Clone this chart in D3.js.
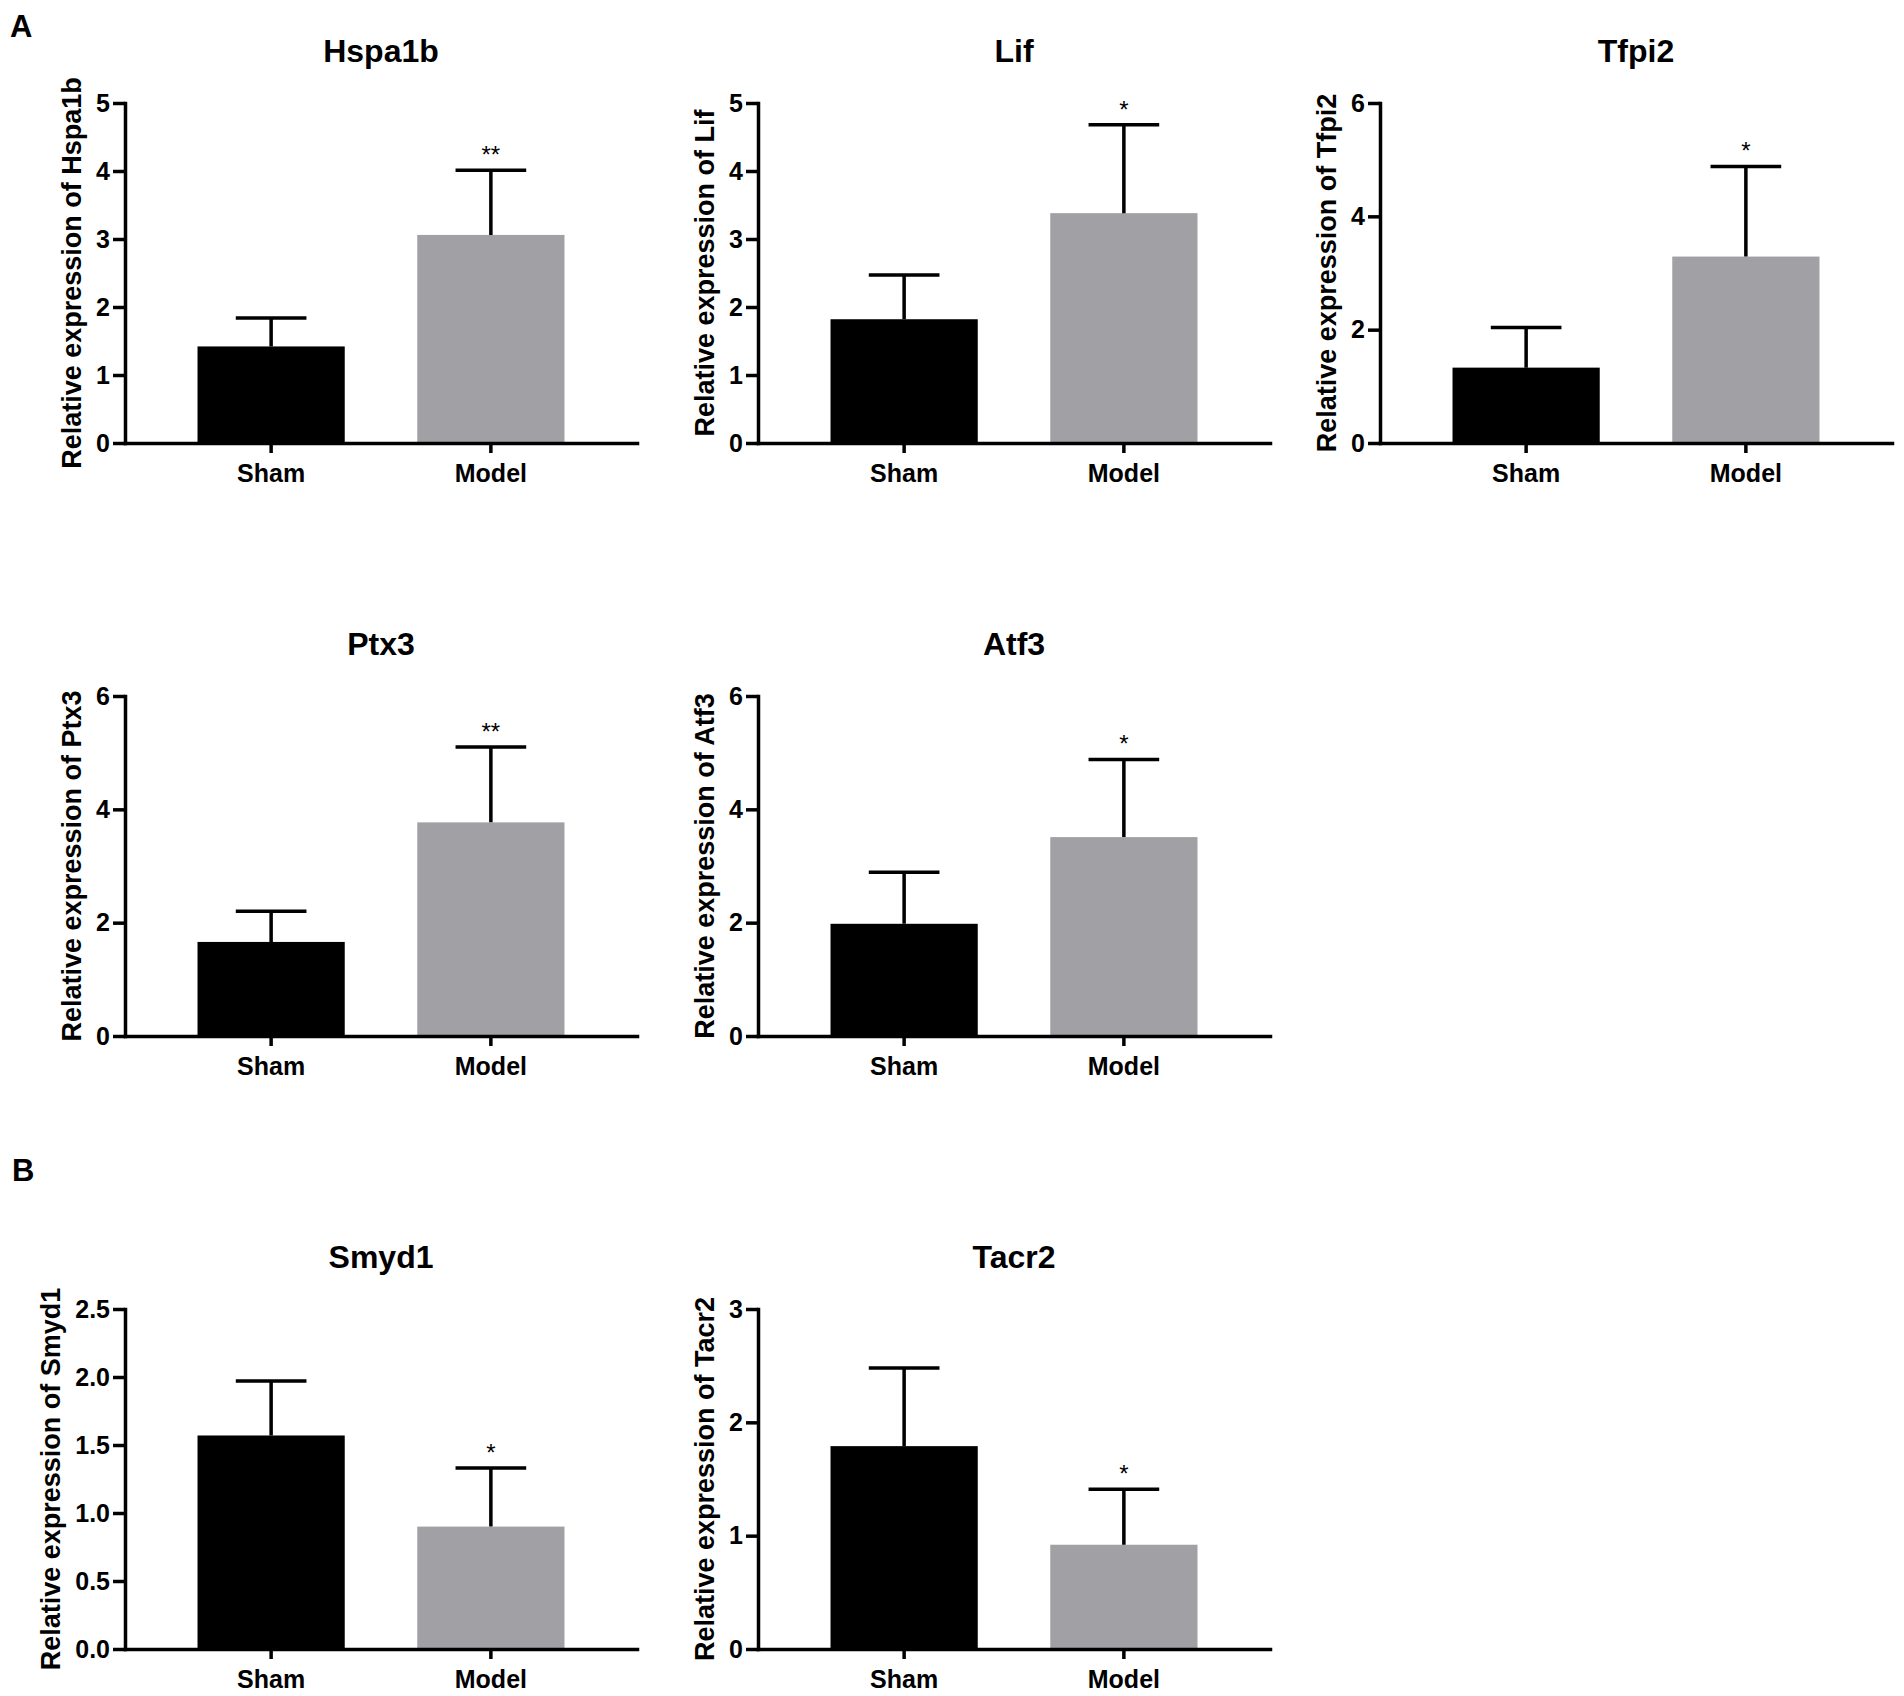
<!DOCTYPE html>
<html lang="en">
<head>
    <meta charset="UTF-8">
    <title>Relative expression</title>
    <style>
        body { margin: 0; background: #fff; }
        svg { display: block; font-family: "Liberation Sans", Arial, sans-serif; }

        .axis path,
        .axis line {
            fill: none;
            stroke: #000;
            stroke-width: 3.5;
        }
        .axis path { stroke-linecap: square; }

        .axis text {
            font-size: 25px;
            font-weight: bold;
            fill: #000;
        }
        .xaxis text { font-size: 25px; }

        .title {
            font-size: 32px;
            font-weight: bold;
            text-anchor: middle;
        }
        .ylabel {
            font-size: 27px;
            font-weight: bold;
            text-anchor: middle;
        }
        .panel {
            font-size: 31px;
            font-weight: bold;
        }
        .star {
            font-size: 24px;
            text-anchor: middle;
        }
        .err { stroke: #000; stroke-width: 3.5; fill: none; }
    </style>
</head>
<body>
    <svg></svg>
    <script src="https://cdn.jsdelivr.net/npm/d3@7"></script>
    <script>
        // data (mean and upper SD)
        var genes = ["Hspa1b", "Lif", "Tfpi2", "Ptx3", "Atf3", "Smyd1", "Tacr2"];
        var groups = ["Sham", "Model"];
        var shamMean = [1.42, 1.82, 1.33, 1.66, 1.98, 1.57, 1.79];
        var shamSD = [0.42, 0.65, 0.71, 0.54, 0.91, 0.40, 0.69];
        var modelMean = [3.06, 3.38, 3.29, 3.77, 3.51, 0.90, 0.92];
        var modelSD = [0.95, 1.30, 1.59, 1.33, 1.37, 0.43, 0.49];
        var signif = ["**", "*", "*", "**", "*", "*", "*"];
        var yMax = [5, 5, 6, 6, 6, 2.5, 3];
        var yStep = [1, 1, 2, 2, 2, 0.5, 1];
        var yFormat = ["d", "d", "d", "d", "d", ".1f", "d"];
        var panelLetters = ["A", "B"];

        // layout: top-left corner of every plot area
        var pos = [[125, 103], [758, 103], [1380, 103],
                   [125, 696], [758, 696],
                   [125, 1309], [758, 1309]];
        var W = 512, H = 340;
        var colors = ["#000000", "#a1a1a5"];

        var svg = d3.select("svg")
            .attr("width", 1904)
            .attr("height", 1696);

        //panel letters
        svg.selectAll(".panel")
            .data(panelLetters)
            .enter()
            .append("text")
            .attr("class", "panel")
            .attr("x", function (d, i) { return i === 0 ? 10 : 12; })
            .attr("y", function (d, i) { return i === 0 ? 37 : 1181; })
            .text(function (d) { return d; });

        genes.forEach(function (gene, i) {
            var g = svg.append("g")
                .attr("transform", "translate(" + pos[i][0] + "," + pos[i][1] + ")");

            var vals = [shamMean[i], modelMean[i]];
            var sds = [shamSD[i], modelSD[i]];

            var x = d3.scaleBand()
                .domain(groups)
                .range([0, W])
                .paddingInner(0.33)
                .paddingOuter(0.33);

            var y = d3.scaleLinear()
                .domain([0, yMax[i]])
                .range([H, 0]);

            //bars
            g.selectAll(".bar")
                .data(groups)
                .enter()
                .append("rect")
                .attr("class", "bar")
                .attr("x", function (d) { return x(d); })
                .attr("width", x.bandwidth())
                .attr("y", function (d, j) { return y(vals[j]); })
                .attr("height", function (d, j) { return H - y(vals[j]); })
                .attr("fill", function (d, j) { return colors[j]; });

            //error bars (upper only)
            var capHalf = x.bandwidth() * 0.24;
            groups.forEach(function (d, j) {
                var cx = x(d) + x.bandwidth() / 2;
                var top = y(vals[j] + sds[j]);
                g.append("path")
                    .attr("class", "err")
                    .attr("d", "M" + cx + "," + y(vals[j]) + "V" + top +
                        "M" + (cx - capHalf) + "," + top + "H" + (cx + capHalf));
            });

            //significance stars
            var mx = x("Model") + x.bandwidth() / 2;
            g.append("text")
                .attr("class", "star")
                .attr("x", mx)
                .attr("y", y(vals[1] + sds[1]) - 7)
                .text(signif[i]);

            //axes
            var yAxis = d3.axisLeft(y)
                .tickValues(d3.range(0, yMax[i] + 1e-9, yStep[i]))
                .tickFormat(d3.format(yFormat[i]))
                .tickSize(12)
                .tickSizeOuter(0)
                .tickPadding(3);
            var yg = g.append("g")
                .attr("class", "axis")
                .call(yAxis);

            var xAxis = d3.axisBottom(x)
                .tickSize(10)
                .tickSizeOuter(0)
                .tickPadding(11);
            g.append("g")
                .attr("class", "axis xaxis")
                .attr("transform", "translate(0," + H + ")")
                .call(xAxis);

            //y label, placed left of the tick labels
            var bb = yg.node().getBBox();
            g.append("text")
                .attr("class", "ylabel")
                .attr("transform", "translate(" + (bb.x - 25) + "," + (H / 2) + ") rotate(-90)")
                .attr("dy", "0.35em")
                .text("Relative expression of " + gene);

            //title
            g.append("text")
                .attr("class", "title")
                .attr("x", W / 2)
                .attr("y", -41)
                .text(gene);
        });
    </script>
</body>
</html>
